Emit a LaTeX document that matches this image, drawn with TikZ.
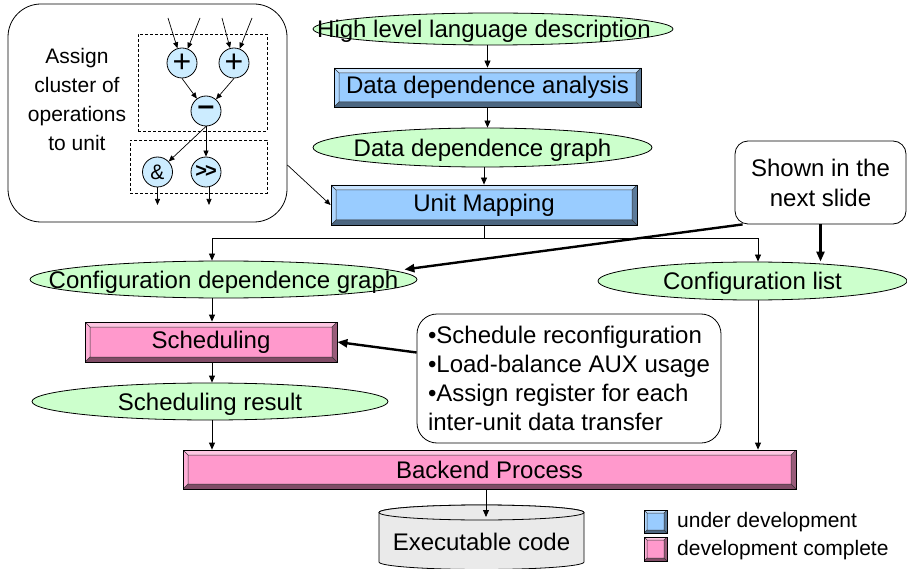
\documentclass[tikz,border=0pt]{standalone}
\usepackage{fontspec}
\setmainfont{Liberation Sans}
\usetikzlibrary{shapes.geometric,arrows.meta}
\definecolor{unitblue}{HTML}{99CCFF}
\definecolor{donepink}{HTML}{FF99CC}
\definecolor{datagreen}{HTML}{CCFFCC}
\definecolor{opblue}{HTML}{CCECFF}
\definecolor{diskgray}{HTML}{EAEAEA}
% width of the bevelled rim of the process boxes
\newcommand\bevw{5pt}
% label that may run past the ellipse it sits in (optional horizontal nudge)
\newcommand\ovtext[2][0pt]{\smash{\makebox[0pt]{\kern#1\raisebox{-8.6pt}{#2}}}}
\tikzset{
  every node/.style={font=\fontsize{24}{29}\selectfont},
  conn/.style={line width=0.8pt, -{Triangle[length=7pt,width=6pt]}},
  heavy/.style={line width=2.4pt, -{Triangle[length=10pt,width=8pt]}},
  smallconn/.style={line width=0.7pt, -{Triangle[length=6pt,width=5pt]}},
  dataell/.style={ellipse, draw, line width=0.8pt, fill=datagreen, inner sep=0pt},
  opnode/.style={circle, draw, line width=0.8pt, fill=opblue, minimum size=30pt, inner sep=0pt},
  groupbox/.style={draw, line width=0.8pt, dash pattern=on 3pt off 2pt, inner sep=0pt},
  notebox/.style={draw, line width=0.8pt, rounded corners=#1, fill=white, inner sep=0pt},
  bevelbox/.style={rectangle, draw=black, line width=0.8pt, fill=#1, inner sep=0pt,
    path picture={
      \coordinate (bvNW) at (path picture bounding box.north west);
      \coordinate (bvNE) at (path picture bounding box.north east);
      \coordinate (bvSE) at (path picture bounding box.south east);
      \coordinate (bvSW) at (path picture bounding box.south west);
      \coordinate (bvnw) at ([shift={(\bevw,-\bevw)}]bvNW);
      \coordinate (bvne) at ([shift={(-\bevw,-\bevw)}]bvNE);
      \coordinate (bvse) at ([shift={(-\bevw,\bevw)}]bvSE);
      \coordinate (bvsw) at ([shift={(\bevw,\bevw)}]bvSW);
      \fill[#1!55!white] (bvNW) -- (bvNE) -- (bvne) -- (bvnw) -- cycle;
      \fill[#1!78!white] (bvNW) -- (bvnw) -- (bvsw) -- (bvSW) -- cycle;
      \fill[#1!60!black] (bvNE) -- (bvSE) -- (bvse) -- (bvne) -- cycle;
      \fill[#1!50!black] (bvSW) -- (bvsw) -- (bvse) -- (bvSE) -- cycle;
      \draw[line width=0.5pt, black!80] (bvnw) rectangle (bvse)
        (bvNW) -- (bvnw) (bvNE) -- (bvne) (bvSE) -- (bvse) (bvSW) -- (bvsw);
    }},
}
\begin{document}
\begin{tikzpicture}[x=1pt,y=-1pt]
\useasboundingbox (0,0) rectangle (907,569);

% ---- callout: clustering operations into one unit ----
\node[notebox=33pt, minimum width=279pt, minimum height=218pt] (clus) at (147.5,113) {};
\node[align=center, font=\fontsize{21}{28.7}\selectfont] (clustxt) at (77,99.5)
  {Assign\\cluster of\\operations\\to unit};
\node[groupbox, minimum width=129pt, minimum height=97pt] (grpA) at (202.5,82.5) {};
\node[groupbox, minimum width=137pt, minimum height=53pt] (grpB) at (198.5,166.5) {};
\node[opnode, font=\fontsize{32}{32}\selectfont] (addA) at (182,63) {+};
\node[opnode, font=\fontsize{32}{32}\selectfont] (addB) at (234,63) {+};
\node[opnode, font=\fontsize{30}{30}\selectfont\bfseries] (sub) at (206,111) {\textendash};
\node[opnode, font=\fontsize{21}{21}\selectfont] (band) at (157.5,172) {\&};
\node[opnode, font=\fontsize{20}{20}\selectfont\bfseries] (shr) at (206,172) {>\kern-2pt>};
\coordinate (inA) at (168,18);
\coordinate (inB) at (200,18);
\coordinate (inC) at (222,18);
\coordinate (inD) at (252,18);
\coordinate (outA) at (157.5,205);
\coordinate (outB) at (209,205);
\draw[smallconn] (inA) -- (addA);
\draw[smallconn] (inB) -- (addA);
\draw[smallconn] (inC) -- (addB);
\draw[smallconn] (inD) -- (addB);
\draw[smallconn] (addA.south) -- (sub);
\draw[smallconn] (addB.south) -- (sub);
\draw[smallconn] (sub.south) -- (band);
\draw[smallconn] (sub.south) -- (shr);
\draw[smallconn] (band.south) -- (outA);
\draw[smallconn] (shr.south -| outB) -- (outB);

% ---- main flow ----
\node[dataell, minimum width=360pt, minimum height=32pt] (hll) at (493,29)
  {\ovtext[-18pt]{High level language description}};
\node[bevelbox=unitblue, minimum width=307pt, minimum height=39pt] (dda) at (487.5,87.5)
  {Data dependence analysis};
\node[dataell, minimum width=339pt, minimum height=39pt] (ddg) at (482.5,147.5)
  {\ovtext{Data dependence graph}};
\node[bevelbox=unitblue, minimum width=306pt, minimum height=40pt] (um) at (484,205)
  {Unit Mapping};
\node[dataell, minimum width=387pt, minimum height=37pt] (cdg) at (223.5,279.5)
  {\ovtext{Configuration dependence graph}};
\node[dataell, minimum width=309pt, minimum height=38pt] (cl) at (752.5,281)
  {\ovtext{Configuration list}};
\node[bevelbox=donepink, minimum width=252pt, minimum height=40pt] (sched) at (211,342)
  {Scheduling};
\node[dataell, minimum width=356pt, minimum height=37pt] (sr) at (210,401.5)
  {\ovtext{Scheduling result}};
\node[bevelbox=donepink, minimum width=613pt, minimum height=39pt] (back) at (489.5,469.5)
  {Backend Process};

% executable code store
\path[draw, line width=0.8pt, fill=diskgray]
  (379,512.5) -- (379,562) arc[start angle=180, end angle=360, x radius=102.5pt, y radius=7.5pt]
  -- (584,512.5) arc[start angle=0, end angle=180, x radius=102.5pt, y radius=7.5pt] -- cycle;
\draw[line width=0.8pt, fill=diskgray] (481.5,512.5) ellipse [x radius=102.5pt, y radius=7.5pt];
\node[minimum width=205pt, minimum height=49pt, inner sep=0pt] (exe) at (481.5,541.5)
  {Executable code};

% side notes
\node[notebox=13pt, minimum width=171pt, minimum height=83pt, align=center,
  font=\fontsize{24}{30}\selectfont] (note) at (820.5,182.5) {Shown in the\\next slide};
\node[notebox=20pt, minimum width=304pt, minimum height=129pt, align=left] (tasks) at (569,378.5)
  {\textbullet Schedule reconfiguration\\\textbullet Load-balance AUX usage\\
   \textbullet Assign register for each\\inter-unit data transfer};

% connectors
\coordinate (busL) at (212,238);
\coordinate (busR) at (758,238);
\draw[conn] (hll.south -| dda.north) -- (dda.north);
\draw[conn] (dda.south) -- (dda.south |- ddg.north);
\draw[conn] (ddg.south -| um.north) -- (um.north);
\draw[conn] (um.south) -- (um.south |- busL) -| (busL |- cdg.north);
\draw[conn] (um.south |- busR) -| (busR |- cl.north);
\draw[conn] (cdg.south -| busL) -- (busL |- sched.north);
\draw[conn] (sched.south -| busL) -- (busL |- sr.north);
\draw[conn] (sr.south -| busL) -- (busL |- back.north);
\draw[conn] (busR |- cl.south) -- (busR |- back.north);
\draw[conn] (back.south -| 486,0) -- (486,517);
\draw[smallconn] ([yshift=-52pt]clus.east) -- (um.west);
\draw[heavy] ([xshift=8pt]note.south west) -- ([shift={(-13pt,10pt)}]cdg.east);
\draw[heavy] (note.south) -- (note.south |- cl.north);
\draw[heavy] ([yshift=26pt]tasks.west) -- (sched.east);

% legend
\begin{scope}
  \renewcommand\bevw{3pt}
  \node[bevelbox=unitblue, minimum width=23pt, minimum height=23pt] (keyA) at (655.5,521.5) {};
  \node[bevelbox=donepink, minimum width=23pt, minimum height=24pt] (keyB) at (655.5,549) {};
\end{scope}
\node[anchor=west, inner sep=0pt, font=\fontsize{21}{21}\selectfont] (keyAtxt) at (677,522) {under development};
\node[anchor=west, inner sep=0pt, font=\fontsize{21}{21}\selectfont] (keyBtxt) at (677,550) {development complete};
\end{tikzpicture}
\end{document}
